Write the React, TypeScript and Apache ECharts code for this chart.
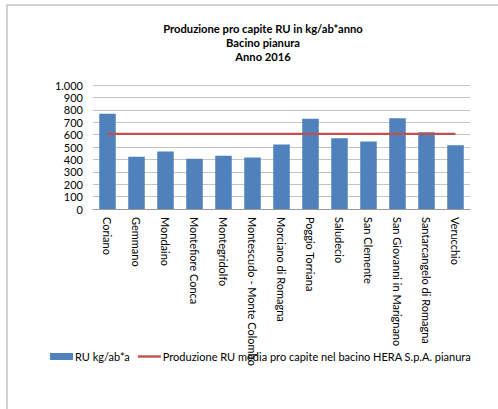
import React, { useEffect, useRef } from "react";
import * as echarts from "echarts";

const categories = [
  "Coriano",
  "Gemmano",
  "Mondaino",
  "Montefiore Conca",
  "Montegridolfo",
  "Montescudo - Monte Colombo",
  "Morciano di Romagna",
  "Poggio Torriana",
  "Saludecio",
  "San Clemente",
  "San Giovanni in Marignano",
  "Santarcangelo di Romagna",
  "Verucchio",
];

const ruValues = [769, 421, 464, 405, 429, 416, 520, 727, 571, 544, 732, 619, 515];
const mediaBacino = [606, 606, 606, 606, 606, 606, 606, 606, 606, 606, 606, 606, 606];

const titleLines = ["Produzione pro capite RU in kg/ab*anno", "Bacino pianura", "Anno 2016"];
const seriesNames = ["RU kg/ab*a", "Produzione RU media pro capite nel bacino HERA S.p.A. pianura"];

const FONT = "Lato";

export default function App() {
  const ref = useRef<HTMLDivElement>(null);

  useEffect(() => {
    document.body.style.margin = "0";
    if (!ref.current) return;
    const chart = echarts.init(ref.current, undefined, { renderer: "svg" });
    chart.setOption({
      animation: false,
      backgroundColor: "#ffffff",
      textStyle: { fontFamily: FONT },
      graphic: [
        {
          type: "rect",
          shape: { x: 7, y: 5, width: 500, height: 420 },
          style: { fill: "none", stroke: "#c4c4c4", lineWidth: 1.5 },
          silent: true,
        },
      ],
      title: {
        text: titleLines.join("\n"),
        left: 258,
        textAlign: "center",
        top: 16,
        textStyle: {
          fontFamily: FONT,
          fontSize: 11.2,
          fontWeight: "bold",
          color: "#000",
          lineHeight: 14,
        },
      },
      legend: {
        left: 50,
        top: 351,
        padding: 0,
        itemWidth: 23,
        itemHeight: 7,
        itemGap: 8,
        textStyle: { fontFamily: FONT, fontSize: 11, color: "#000", padding: [0, 0, 0, -3] },
        data: [
          { name: seriesNames[0], icon: "rect" },
          { name: seriesNames[1], icon: "path://M0,0H23V2.4H0Z", itemStyle: { color: "#c0504d" } },
        ],
      },
      grid: { left: 93, top: 85, width: 377, height: 124, containLabel: false },
      xAxis: {
        type: "category",
        data: categories,
        boundaryGap: true,
        axisLine: { lineStyle: { color: "#9a9a9a", width: 1 } },
        axisTick: { show: false },
        axisLabel: {
          rotate: -90,
          interval: 0,
          margin: 8,
          fontFamily: FONT,
          fontSize: 11,
          color: "#000",
        },
      },
      yAxis: {
        type: "value",
        min: 0,
        max: 1000,
        interval: 100,
        axisLine: { show: false },
        axisTick: { show: false },
        splitLine: { lineStyle: { color: "#c4c4c4", width: 1 } },
        axisLabel: {
          margin: 10,
          fontFamily: FONT,
          fontSize: 11,
          color: "#000",
          formatter: (v: number) =>
            v >= 1000 ? `${Math.floor(v / 1000)}.${String(v % 1000).padStart(3, "0")}` : String(v),
        },
      },
      series: [
        {
          name: seriesNames[0],
          type: "bar",
          data: ruValues,
          barCategoryGap: "43%",
          itemStyle: { color: "#4f81bd" },
        },
        {
          name: seriesNames[1],
          type: "line",
          data: mediaBacino,
          symbol: "none",
          lineStyle: { color: "#c0504d", width: 2.25 },
          itemStyle: { color: "#c0504d" },
          z: 3,
        },
      ],
    });
    return () => chart.dispose();
  }, []);

  return <div ref={ref} style={{ width: 498, height: 409 }} />;
}
